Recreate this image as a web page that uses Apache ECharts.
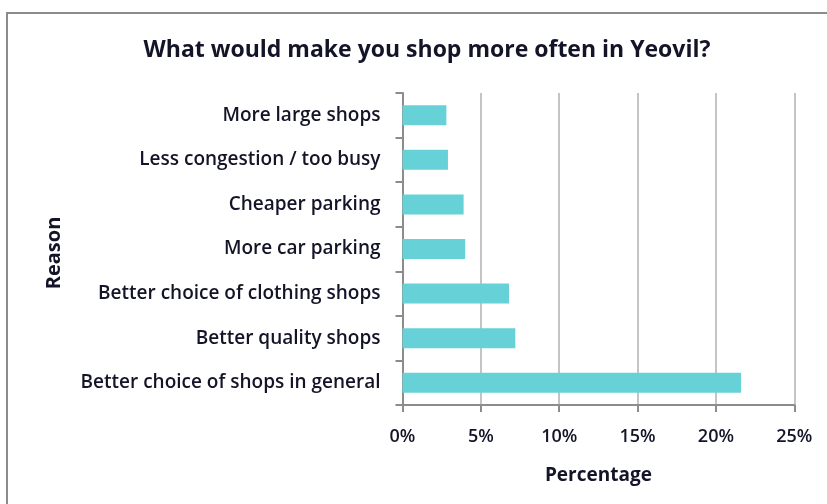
<!DOCTYPE html>
<html><head><meta charset="utf-8">
<script src="https://cdn.jsdelivr.net/npm/echarts@6/dist/echarts.min.js"></script>
<style>html,body{margin:0;padding:0;background:#fff}#c{width:827px;height:504px}</style>
</head><body><div id="c"></div>
<script>
const categories = ["Better choice of shops in general","Better quality shops","Better choice of clothing shops","More car parking","Cheaper parking","Less congestion / too busy","More large shops"];
const values = [21.6, 7.2, 6.8, 4.0, 3.9, 2.9, 2.8];
const xTicks = [0, 5, 10, 15, 20, 25];
const titleText = "What would make you shop more often in Yeovil?";
const xName = "Percentage";
const yName = "Reason";

const font = "'Open Sans', sans-serif";
const txt = '#141428';
const chart = echarts.init(document.getElementById('c'), null, {renderer:'canvas'});
chart.setOption({
  animation:false,
  title:{text:titleText, left:422, top:34, textAlign:'center',
    textStyle:{fontFamily:font, fontSize:23, fontWeight:'bold', color:txt}},
  graphic:[{type:'rect', shape:{x:7, y:13, width:900, height:600},
    style:{fill:'none', stroke:'#8c8c8c', lineWidth:2}}],
  grid:{left:402.5, right:32.7, top:93, bottom:99},
  xAxis:{type:'value', min:xTicks[0], max:xTicks[xTicks.length-1], interval:5,
    name:xName, nameLocation:'middle', nameGap:61,
    nameTextStyle:{fontFamily:font, fontSize:19, fontWeight:'bold', color:txt},
    axisLine:{show:true, lineStyle:{color:'#8c8c8c', width:2}},
    axisTick:{show:true, length:7, lineStyle:{color:'#8c8c8c', width:2}},
    axisLabel:{formatter:v=>v+'%', fontFamily:font, fontSize:18, fontWeight:600, color:txt, margin:23},
    splitLine:{show:true, lineStyle:{color:'#c4c4c4', width:2}}},
  yAxis:{type:'category', data:categories,
    name:yName, nameLocation:'middle', nameGap:338, nameRotate:90,
    nameTextStyle:{fontFamily:font, fontSize:20, fontWeight:'bold', color:txt, padding:[0,8,0,0]},
    axisLine:{show:true, lineStyle:{color:'#8c8c8c', width:2}},
    axisTick:{show:true, length:7, lineStyle:{color:'#8c8c8c', width:2}},
    axisLabel:{fontFamily:font, fontSize:19, fontWeight:600, color:txt, margin:22}},
  series:[{type:'bar', data:values, barWidth:20,
    itemStyle:{color:'#66d1d6'}}]
});
</script></body></html>
